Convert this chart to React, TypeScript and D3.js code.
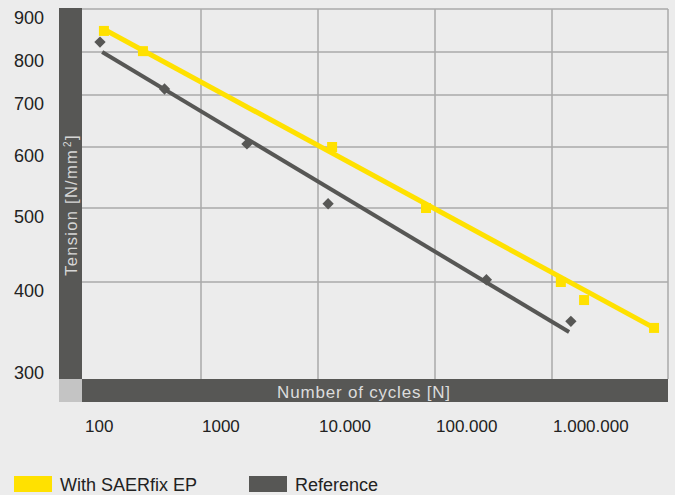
import React from "react";
import * as d3 from "d3";

const W = 675;
const H = 495;

// tick values and labels
const xTickValues = [100, 1000, 10000, 100000, 1000000];
const xTickLabels = ["100", "1000", "10.000", "100.000", "1.000.000"];
const xGridValues = [1000, 10000, 100000, 1000000];
const yTickValues = [300, 400, 500, 600, 700, 800, 900];
const yTickLabels = ["300", "400", "500", "600", "700", "800", "900"];
const yGridValues = [400, 500, 600, 700, 800, 900];

// series: With SAERfix EP
const saerCycles = [148, 319, 13200, 83800, 1190000, 1880000, 7450000];
const saerTension = [849, 802, 600, 500, 400, 378, 344];
const saerTrendCycles = [148, 7450000];
const saerTrendTension = [853, 344];

// series: Reference
const refCycles = [137, 488, 2470, 12200, 275000, 1450000];
const refTension = [823, 714, 606, 507, 403, 352];
const refTrendCycles = [143, 1400000];
const refTrendTension = [800, 339];

const seriesNames = ["With SAERfix EP", "Reference"];

const YELLOW = "#ffe100";
const DARK = "#575755";
const BG = "#ececec";
const GRID = "#aaaaaa";
const FONT = "'Liberation Sans', Arial, sans-serif";

export default function App() {
  const left = 82;
  const right = 668;
  const top = 9;
  const bottom = 379;

  const x = d3.scaleLog().domain([100, 1e7]).range([84, 669]);
  // axis of the original is hand-drawn: piecewise mapping of the tension values
  const y = d3
    .scaleLinear()
    .domain([300, 400, 500, 600, 700, 800, 900])
    .range([364, 282, 208, 147, 95, 52, 9]);

  const line = d3
    .line<[number, number]>()
    .x((d) => x(d[0]))
    .y((d) => y(d[1]));

  const saerTrend = saerTrendCycles.map((c, i) => [c, saerTrendTension[i]] as [number, number]);
  const refTrend = refTrendCycles.map((c, i) => [c, refTrendTension[i]] as [number, number]);

  const sq = 10;
  const dia = 8;

  return (
    <svg
      width={W}
      height={H}
      style={{ position: "absolute", left: 0, top: 0, display: "block" }}
      fontFamily={FONT}
    >
      <rect x={0} y={0} width={W} height={H} fill={BG} />

      {/* grid */}
      {yGridValues.map((v) => (
        <line key={"hy" + v} x1={left} x2={right} y1={y(v)} y2={y(v)} stroke={GRID} strokeWidth={1.5} />
      ))}
      {xGridValues.map((v) => (
        <line key={"vx" + v} x1={x(v)} x2={x(v)} y1={top} y2={bottom} stroke={GRID} strokeWidth={1.5} />
      ))}
      <line x1={right} x2={right} y1={top} y2={bottom} stroke={GRID} strokeWidth={1.5} />

      {/* axis bars */}
      <rect x={59} y={8} width={left - 59} height={bottom - 8} fill={DARK} />
      <rect x={left} y={bottom} width={right - left} height={23} fill={DARK} />
      <rect x={59} y={bottom} width={left - 59} height={23} fill="#c4c4c4" />

      <text
        transform={`translate(77,205) rotate(-90)`}
        textAnchor="middle"
        fontSize={16.5}
        fill="#d6d6d6"
        letterSpacing={1.3}
      >
        Tension [N/mm
        <tspan fontSize={10} dx={2} dy={-6}>2</tspan>
        <tspan dy={6}>]</tspan>
      </text>
      <text
        x={364}
        y={398}
        textAnchor="middle"
        fontSize={17}
        fill="#dcdcdc"
        letterSpacing={0.8}
      >
        Number of cycles [N]
      </text>

      {/* tick labels */}
      {yTickValues.map((v, i) => (
        <text key={"yt" + v} x={14} y={y(v) + 15} fontSize={18} fill="#222">
          {yTickLabels[i]}
        </text>
      ))}
      {xTickValues.map((v, i) => (
        <text key={"xt" + v} x={x(v) + 1} y={432} fontSize={17} fill="#222">
          {xTickLabels[i]}
        </text>
      ))}

      {/* reference series */}
      <path d={line(refTrend) || ""} fill="none" stroke={DARK} strokeWidth={4} />
      {refCycles.map((c, i) => (
        <rect
          key={"r" + i}
          x={-dia / 2}
          y={-dia / 2}
          width={dia}
          height={dia}
          fill={DARK}
          transform={`translate(${x(c)},${y(refTension[i])}) rotate(45)`}
        />
      ))}

      {/* SAERfix series */}
      <path d={line(saerTrend) || ""} fill="none" stroke={YELLOW} strokeWidth={5} />
      {saerCycles.map((c, i) => (
        <rect
          key={"s" + i}
          x={x(c) - sq / 2}
          y={y(saerTension[i]) - sq / 2}
          width={sq}
          height={sq}
          fill={YELLOW}
        />
      ))}

      {/* legend */}
      <rect x={14} y={476} width={38} height={16} fill={YELLOW} />
      <text x={60} y={491} fontSize={18} fill="#222">{seriesNames[0]}</text>
      <rect x={249} y={476} width={38} height={16} fill={DARK} />
      <text x={295} y={491} fontSize={18} fill="#222">{seriesNames[1]}</text>
    </svg>
  );
}
